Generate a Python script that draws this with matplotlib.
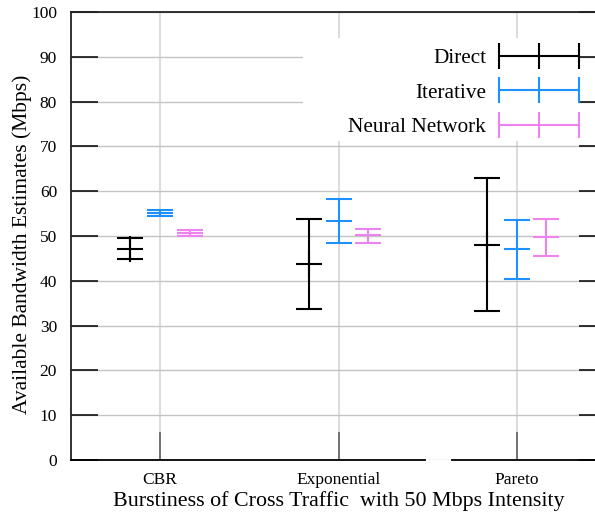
import matplotlib
matplotlib.use('Agg')
import matplotlib.pyplot as plt
import numpy as np
from matplotlib.lines import Line2D
from matplotlib.legend_handler import HandlerLine2D
from matplotlib.patches import Rectangle

plt.rcParams['font.family'] = ['Liberation Serif', 'DejaVu Serif']

# data: centre value, upper end, lower end of each bar
categories = ['CBR', 'Exponential', 'Pareto']
series = ['Direct', 'Iterative', 'Neural Network']
colors = ['black', '#1e90ff', '#ee82ee']
mid_markers = ['+', '_', '_']

direct_mid = [47.2, 43.7, 48.1]
direct_hi = [49.6, 53.8, 62.9]
direct_lo = [44.9, 33.6, 33.3]

iter_mid = [55.1, 53.3, 47.1]
iter_hi = [55.7, 58.3, 53.6]
iter_lo = [54.5, 48.5, 40.5]

nn_mid = [50.7, 50.2, 49.7]
nn_hi = [51.3, 51.6, 53.8]
nn_lo = [50.0, 48.4, 45.6]

mids = [direct_mid, iter_mid, nn_mid]
his = [direct_hi, iter_hi, nn_hi]
los = [direct_lo, iter_lo, nn_lo]
offsets = [-0.168, 0.0, 0.165]

fig = plt.figure(figsize=(5.95, 5.15), dpi=100)
ax = fig.add_axes([71 / 595, 55 / 515, 535 / 595, 448 / 515])

x = np.arange(len(categories))
cap = 9.7
lw = 1.5
for k in range(3):
    m = np.array(mids[k])
    yerr = [m - np.array(los[k]), np.array(his[k]) - m]
    ax.errorbar(x + offsets[k], m, yerr=yerr, fmt=mid_markers[k], color=colors[k],
                ecolor=colors[k], elinewidth=lw, capsize=cap, capthick=lw,
                markersize=2 * cap, markeredgewidth=lw, zorder=3)

ax.set_xlim(-0.5, 2.5)
ax.set_ylim(0, 100)
ax.set_xticks(x)
ax.set_xticklabels(categories)
ax.set_yticks(np.arange(0, 101, 10))

ax.tick_params(axis='y', direction='in', length=19.5, width=1.1, labelsize=12.5,
               pad=10, left=True, right=True, colors='black')
ax.tick_params(axis='x', direction='in', length=20, width=1.1, labelsize=12.5,
               pad=9, color='#555555', labelcolor='black', top=False)

ax.yaxis.grid(True, color='#c4c4c4', lw=1.0, zorder=0)
ax.xaxis.grid(True, color='#d6d6d6', lw=1.2, zorder=0)
ax.set_axisbelow(True)

for s in ['left', 'top']:
    ax.spines[s].set_linewidth(1.3)
    ax.spines[s].set_color('#222222')
ax.spines['right'].set_visible(False)
ax.spines['bottom'].set_visible(False)
# bottom axis line, drawn in two pieces like the original
for a, b in [(0, 0.662), (0.712, 1.0)]:
    ax.plot([a, b], [0, 0], transform=ax.transAxes, color='black', lw=1.3,
            clip_on=False, zorder=4)

ax.set_xlabel('Burstiness of Cross Traffic  with 50 Mbps Intensity', fontsize=15.8,
              labelpad=2)
ax.set_ylabel('Available Bandwidth Estimates (Mbps)', fontsize=15.5)
ax.yaxis.set_label_coords(-0.072, 0.482)

# white key area hiding the grid behind the legend
ax.add_patch(Rectangle((0.434, 0.712), 0.514, 0.23, transform=ax.transAxes,
                       facecolor='white', edgecolor='none', zorder=1))

handles = [Line2D([], [], color=c, lw=lw, marker='|', markersize=2 * cap,
                  markeredgewidth=lw) for c in colors]
leg = ax.legend(handles, series, loc='upper right', bbox_to_anchor=(0.961, 0.933),
                markerfirst=False, numpoints=3, handlelength=3.76, fontsize=15.3,
                frameon=False, labelspacing=0.69, borderpad=0.3,
                handletextpad=0.6, borderaxespad=0,
                handler_map={Line2D: HandlerLine2D(marker_pad=0)})
leg.set_zorder(5)

fig.savefig('out.png', dpi=100)
